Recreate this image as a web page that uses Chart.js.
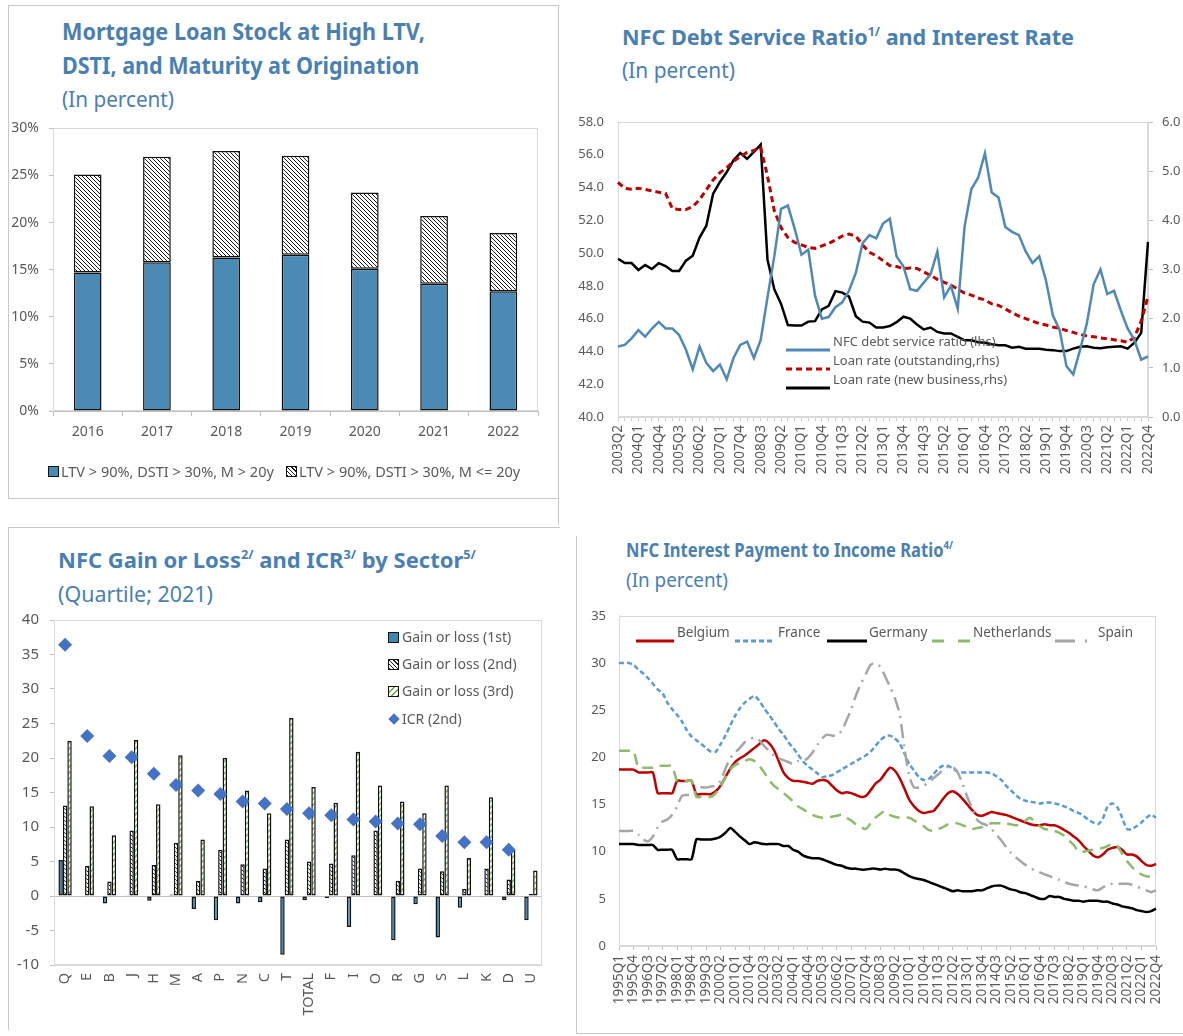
<!DOCTYPE html>
<html>
<head>
<meta charset="utf-8">
<title>Mortgage loans and NFC debt service</title>
<script src="https://cdn.jsdelivr.net/npm/chart.js@4.4.1/dist/chart.umd.min.js"></script>
<style>
  html, body { margin: 0; padding: 0; background: #fff; }
  body { position: relative; width: 1183px; height: 1036px; overflow: hidden; font-family: "Noto Sans", "DejaVu Sans", sans-serif; }
  canvas { position: absolute; }
  .ttl { position: absolute; white-space: nowrap; color: #4a7fb2; transform-origin: 0 50%; line-height: 1.2; }
  .ttl.b { font-weight: 700; }
  .ttl sup { font-size: 0.58em; vertical-align: 0.7em; line-height: 0; }
  .rule { position: absolute; background: #c8c8c8; }
  .lg { position: absolute; white-space: nowrap; color: #595959; line-height: 20px; height: 20px; }
  .mk { position: absolute; }
</style>
</head>
<body>

<div class="rule" style="left:8px;top:5px;width:550px;height:1px"></div>
<div class="rule" style="left:8px;top:5px;width:1px;height:493px"></div>
<div class="rule" style="left:8px;top:498px;width:550px;height:1px"></div>
<div class="rule" style="left:558px;top:5px;width:1px;height:520px"></div>
<div class="rule" style="left:8px;top:527px;width:552px;height:1px"></div>
<div class="rule" style="left:8px;top:527px;width:1px;height:503px"></div>
<div class="rule" style="left:576px;top:536px;width:1px;height:497px"></div>
<div class="rule" style="left:576px;top:1033px;width:607px;height:1px"></div>

<div class="ttl b" data-w="363" style="left:62px;top:17px;font-size:24px">Mortgage Loan Stock at High LTV,</div>
<div class="ttl b" data-w="357" style="left:62px;top:51px;font-size:24px">DSTI, and Maturity at Origination</div>
<div class="ttl" data-w="112" style="left:62px;top:85px;font-size:22px">(In percent)</div>

<div class="ttl b" data-w="452" style="left:622px;top:23px;font-size:22px">NFC Debt Service Ratio<sup>1/</sup> and Interest Rate</div>
<div class="ttl" data-w="113" style="left:622px;top:58px;font-size:21px">(In percent)</div>

<div class="ttl b" data-w="418" style="left:58px;top:546px;font-size:22px">NFC Gain or Loss<sup>2/</sup> and ICR<sup>3/</sup> by Sector<sup>5/</sup></div>
<div class="ttl" data-w="155" style="left:58px;top:580px;font-size:22px">(Quartile; 2021)</div>

<div class="ttl b" data-w="327" style="left:626px;top:539px;font-size:19px">NFC Interest Payment to Income Ratio<sup>4/</sup></div>
<div class="ttl" data-w="102" style="left:626px;top:569px;font-size:19px">(In percent)</div>

<canvas id="c1" width="558" height="380" style="left:0;top:110px"></canvas>
<canvas id="c2" width="623" height="400" style="left:560px;top:100px"></canvas>
<canvas id="c3" width="552" height="430" style="left:8px;top:600px"></canvas>
<canvas id="c4" width="607" height="441" style="left:576px;top:595px"></canvas>

<script>
// ---- chart 1: mortgage loan stock ----
const years = ['2016', '2017', '2018', '2019', '2020', '2021', '2022'];
const longMaturity = [14.7, 15.8, 16.3, 16.6, 15.1, 13.5, 12.7];
const shortMaturity = [10.4, 11.2, 11.3, 10.5, 8.1, 7.2, 6.2];
const pctTicks = [0, 5, 10, 15, 20, 25, 30];

// ---- chart 2: NFC debt service ratio, 2003Q2-2022Q4 ----
const debtService = [
  44.3, 44.4, 44.8, 45.3, 44.9, 45.4, 45.8, 45.4, 45.4, 45.0,
  44.1, 42.9, 44.3, 43.3, 42.8, 43.2, 42.3, 43.6, 44.4, 44.6,
  43.6, 44.7, 47.3, 49.8, 52.7, 52.9, 51.5, 49.9, 50.2, 47.4,
  46.0, 46.1, 46.7, 47.0, 47.7, 48.8, 50.6, 51.1, 50.9, 51.8,
  52.1, 49.8, 49.2, 47.8, 47.7, 48.2, 48.7, 50.1, 47.3, 48.0,
  46.6, 51.6, 53.9, 54.6, 56.1, 53.7, 53.4, 51.6, 51.3, 51.1,
  50.1, 49.4, 49.8, 48.3, 46.2, 45.3, 43.1, 42.6, 44.1, 45.7,
  48.1, 49.0, 47.5, 47.7, 46.5, 45.4, 44.7, 43.5, 43.7
];
const rateOutstanding = [
  4.77, 4.65, 4.63, 4.65, 4.63, 4.60, 4.57, 4.55, 4.24, 4.22,
  4.22, 4.28, 4.42, 4.62, 4.82, 4.97, 5.07, 5.20, 5.30, 5.38,
  5.42, 5.48, 4.90, 4.20, 3.85, 3.65, 3.55, 3.50, 3.45, 3.43,
  3.48, 3.53, 3.60, 3.68, 3.72, 3.68, 3.50, 3.35, 3.28, 3.18,
  3.08, 3.06, 3.02, 3.03, 3.02, 2.95, 2.88, 2.80, 2.74, 2.68,
  2.60, 2.52, 2.48, 2.42, 2.38, 2.30, 2.27, 2.20, 2.12, 2.05,
  2.00, 1.95, 1.90, 1.87, 1.83, 1.80, 1.76, 1.72, 1.68, 1.65,
  1.63, 1.61, 1.59, 1.57, 1.55, 1.52, 1.62, 1.95, 2.45
];
const rateNewBusiness = [
  3.22, 3.13, 3.13, 2.99, 3.09, 3.01, 3.13, 3.07, 2.97, 2.97,
  3.18, 3.28, 3.65, 3.89, 4.54, 4.78, 4.98, 5.22, 5.37, 5.25,
  5.39, 5.54, 3.20, 2.60, 2.30, 1.87, 1.86, 1.86, 1.94, 1.95,
  2.19, 2.26, 2.56, 2.53, 2.45, 2.05, 1.94, 1.92, 1.82, 1.82,
  1.85, 1.93, 2.04, 2.00, 1.88, 1.78, 1.82, 1.73, 1.70, 1.70,
  1.63, 1.56, 1.56, 1.52, 1.51, 1.48, 1.46, 1.46, 1.41, 1.43,
  1.39, 1.39, 1.39, 1.37, 1.36, 1.34, 1.34, 1.39, 1.43, 1.44,
  1.41, 1.40, 1.42, 1.43, 1.44, 1.39, 1.51, 1.71, 3.56
];

// ---- chart 3: gain or loss and ICR by sector ----
const sectors = ['Q', 'E', 'B', 'J', 'H', 'M', 'A', 'P', 'N', 'C', 'T', 'TOTAL', 'F', 'I', 'O', 'R', 'G', 'S', 'L', 'K', 'D', 'U'];
const gainQ1 = [5.2, -0.1, -1.1, 0.1, -0.7, 0.2, -1.9, -3.5, -1.1, -0.9, -8.5, -0.6, -0.3, -4.5, 0.1, -6.4, -1.2, -6.0, -1.7, -0.1, -0.6, -3.5];
const gainQ2 = [13.1, 4.4, 2.1, 9.5, 4.5, 7.7, 2.2, 6.7, 4.6, 4.0, 8.2, 5.0, 4.7, 5.9, 9.5, 2.2, 4.0, 3.6, 1.0, 4.0, 2.4, 0.3];
const gainQ3 = [22.5, 13.0, 8.8, 22.6, 13.3, 20.4, 8.2, 20.0, 15.3, 12.0, 25.8, 15.8, 13.5, 20.9, 16.0, 13.7, 12.0, 16.0, 5.5, 14.3, 6.7, 3.7];
const icrQ2 = [36.4, 23.2, 20.3, 20.1, 17.7, 16.1, 15.3, 14.8, 13.7, 13.4, 12.6, 12.0, 11.7, 11.1, 10.8, 10.5, 10.4, 8.7, 7.8, 7.8, 6.7, null];

// ---- chart 4: interest payment to income, 1995Q1-2022Q4 ----
const belgium = [
  18.7, 18.7, 18.7, 18.7, 18.4, 18.4, 18.4, 18.4, 16.2, 16.2,
  16.2, 16.2, 17.5, 17.5, 17.5, 17.5, 16.1, 16.1, 16.1, 16.1,
  16.4, 17.0, 17.9, 18.8, 19.5, 19.9, 20.2, 20.6, 21.0, 21.4,
  21.8, 21.5, 20.8, 19.6, 18.4, 17.8, 17.5, 17.5, 17.4, 17.3,
  17.2, 17.5, 17.6, 17.5, 17.0, 16.5, 16.2, 16.3, 16.2, 16.0,
  15.8, 15.9, 16.5, 17.2, 17.6, 18.3, 18.9, 18.6, 17.8, 16.7,
  15.5, 14.8, 14.3, 14.1, 14.2, 14.3, 14.9, 15.6, 16.2, 16.4,
  16.1, 15.6, 15.0, 14.4, 13.9, 13.8, 14.0, 14.2, 14.1, 14.0,
  13.9, 13.7, 13.5, 13.3, 13.1, 12.9, 12.8, 12.8, 12.9, 12.8,
  12.8, 12.6, 12.3, 12.0, 11.6, 11.2, 10.6, 10.1, 9.6, 9.4,
  9.7, 10.2, 10.4, 10.5, 10.2, 9.7, 9.7, 9.5, 9.0, 8.6,
  8.5, 8.7
];
const france = [
  30.0, 30.0, 30.0, 29.8, 29.3, 28.9, 28.4, 27.8, 27.2, 26.8,
  25.8, 25.1, 24.5, 23.8, 22.9, 22.2, 21.8, 21.4, 21.0, 20.6,
  20.6, 21.4, 22.3, 23.4, 24.4, 25.2, 25.8, 26.2, 26.5, 26.0,
  25.2, 24.5, 23.8, 23.0, 22.4, 21.6, 21.0, 20.3, 19.6, 19.1,
  18.7, 18.3, 17.9, 18.0, 18.1, 18.4, 18.7, 19.0, 19.3, 19.6,
  19.9, 20.2, 20.6, 21.2, 21.8, 22.2, 22.3, 22.0, 21.5, 20.4,
  19.3, 18.6, 17.9, 17.6, 17.7, 18.2, 18.8, 19.1, 19.1, 18.8,
  18.5, 18.4, 18.4, 18.4, 18.4, 18.4, 18.4, 18.3, 18.0, 17.6,
  17.0, 16.5, 16.0, 15.6, 15.4, 15.3, 15.2, 15.1, 15.2, 15.2,
  15.1, 15.0, 14.8, 14.6, 14.3, 14.1, 13.8, 13.4, 13.1, 12.9,
  13.5, 14.8, 15.1, 14.7, 13.6, 12.4, 12.4, 12.7, 13.1, 13.6,
  13.9, 13.6
];
const germany = [
  10.8, 10.8, 10.8, 10.8, 10.7, 10.7, 10.7, 10.7, 10.2, 10.2,
  10.2, 10.2, 9.2, 9.2, 9.2, 9.2, 11.3, 11.3, 11.3, 11.3,
  11.4, 11.6, 12.0, 12.5, 12.1, 11.6, 11.2, 10.8, 11.0, 10.9,
  10.8, 10.8, 10.8, 10.8, 10.6, 10.6, 10.2, 10.0, 9.6, 9.4,
  9.3, 9.3, 9.2, 9.0, 8.8, 8.6, 8.5, 8.3, 8.2, 8.2,
  8.1, 8.1, 8.2, 8.2, 8.1, 8.2, 8.1, 8.1, 8.0, 7.7,
  7.4, 7.2, 7.1, 7.0, 6.8, 6.6, 6.4, 6.2, 6.0, 5.8,
  5.9, 5.8, 5.8, 5.8, 5.9, 5.9, 6.1, 6.3, 6.4, 6.4,
  6.2, 6.0, 5.9, 5.7, 5.6, 5.4, 5.2, 5.0, 5.0, 5.3,
  5.2, 5.2, 5.0, 4.9, 4.8, 4.8, 4.7, 4.8, 4.8, 4.8,
  4.7, 4.7, 4.5, 4.4, 4.2, 4.1, 4.0, 3.8, 3.7, 3.6,
  3.7, 3.95
];
const netherlands = [
  20.7, 20.7, 20.7, 20.7, 18.9, 18.9, 18.9, 18.9, 19.1, 19.1,
  19.1, 19.1, 17.5, 17.5, 17.5, 17.5, 15.8, 15.8, 15.8, 15.8,
  16.2, 17.0, 17.9, 18.7, 19.2, 19.4, 19.6, 19.8, 19.6, 19.1,
  18.4, 17.6, 17.0, 16.6, 16.2, 15.8, 15.3, 14.8, 14.5, 14.2,
  13.9, 13.7, 13.6, 13.6, 13.7, 13.8, 13.9, 13.6, 13.3, 12.9,
  12.6, 12.4, 13.0, 13.6, 14.0, 14.3, 13.9, 13.7, 13.6, 13.6,
  13.6, 13.3, 13.0, 12.7, 12.3, 12.2, 12.4, 12.6, 12.9, 13.0,
  13.0, 12.8, 12.6, 12.4, 12.5, 12.6, 12.9, 13.0, 13.0, 13.0,
  13.0, 12.9, 12.8, 12.9, 13.3, 13.6, 13.1, 12.7, 12.4, 12.3,
  12.2, 12.0, 11.7, 11.2, 10.7, 10.0, 10.0, 10.1, 10.2, 10.3,
  10.4, 10.6, 10.8, 10.6, 9.8, 9.0, 8.4, 7.9, 7.6, 7.4,
  7.4, 7.8
];
const spain = [
  12.2, 12.2, 12.2, 12.2, 11.8, 11.3, 11.1, 11.6, 12.6, 13.2,
  13.4, 13.9, 14.8, 15.9, 16.0, 16.0, 16.4, 16.8, 16.8, 16.9,
  17.0, 17.5, 18.8, 19.9, 20.5, 21.0, 21.6, 21.9, 22.1, 21.8,
  21.2, 20.7, 20.2, 19.9, 19.7, 19.5, 19.3, 19.6, 19.6, 19.9,
  20.5, 21.3, 22.0, 22.4, 22.3, 22.3, 22.8, 23.9, 25.1, 26.6,
  27.8, 28.8, 29.8, 30.0, 29.6, 28.6, 27.5, 26.3, 24.6, 21.0,
  18.0, 16.8, 16.8, 17.0, 17.3, 17.8, 18.2, 18.7, 19.0, 19.0,
  18.4, 17.2, 15.8, 14.6, 13.4, 13.0, 12.8, 12.4, 11.8, 11.2,
  10.5, 9.9, 9.4, 9.0, 8.6, 8.3, 8.0, 7.8, 7.6, 7.4,
  7.2, 7.0, 6.8, 6.6, 6.5, 6.4, 6.3, 6.2, 6.0, 5.9,
  6.2, 6.5, 6.6, 6.6, 6.6, 6.6, 6.5, 6.3, 6.1, 5.9,
  5.7, 5.9
];

function quarters(fromYear, fromQ, toYear, toQ) {
  const out = [];
  for (let y = fromYear; y <= toYear; y++) {
    for (let q = 1; q <= 4; q++) {
      if (y === fromYear && q < fromQ) continue;
      if (y === toYear && q > toQ) break;
      out.push(y + 'Q' + q);
    }
  }
  return out;
}
const dsrQuarters = quarters(2003, 2, 2022, 4);
const ipiQuarters = quarters(1995, 1, 2022, 4);

const FONT = '"Noto Sans", "DejaVu Sans", sans-serif';
const TXT = '#595959';
const FRAME = '#d9d9d9';
Chart.defaults.font.family = FONT;
Chart.defaults.color = TXT;
Chart.defaults.animation = false;
Chart.defaults.plugins.tooltip.enabled = false;

// light grey box round the plot area, like the spreadsheet charts
Chart.register({
  id: 'frame',
  beforeDatasetsDraw(chart, args, opts) {
    const a = chart.chartArea, c = chart.ctx;
    c.save();
    c.strokeStyle = opts.color || FRAME;
    c.lineWidth = 1;
    c.strokeRect(Math.round(a.left) + 0.5, Math.round(a.top) + 0.5,
      Math.round(a.right - a.left) - 1, Math.round(a.bottom - a.top) - 1);
    c.restore();
  }
});

function hatch(ink, paper, size, rising, width) {
  const cv = document.createElement('canvas');
  cv.width = cv.height = size;
  const g = cv.getContext('2d');
  g.fillStyle = paper;
  g.fillRect(0, 0, size, size);
  g.strokeStyle = ink;
  g.lineWidth = width;
  g.beginPath();
  for (let k = -1; k <= 1; k++) {
    if (rising) { g.moveTo(k * size, size); g.lineTo(k * size + size, 0); }
    else { g.moveTo(k * size, 0); g.lineTo(k * size + size, size); }
  }
  g.stroke();
  return g.createPattern(cv, 'repeat');
}

const fixW = w => function (s) { s.width = w; };
const fixH = h => function (s) { s.height = h; };
const everyThird = labels => (v, i) => (i % 3 === 0 ? labels[i] : '');

// ---------- chart 1 ----------
const blue1 = '#4a8ab4';
new Chart(document.getElementById('c1'), {
  type: 'bar',
  data: {
    labels: years,
    datasets: [
      { label: 'LTV > 90%, DSTI > 30%, M > 20y', data: longMaturity, backgroundColor: blue1 },
      { label: 'LTV > 90%, DSTI > 30%, M <= 20y', data: shortMaturity, backgroundColor: hatch('#1a1a1a', '#fff', 4, false, 1) }
    ].map(d => Object.assign(d, { borderColor: '#111', borderWidth: 1.5, borderSkipped: false, categoryPercentage: 0.4, barPercentage: 1 }))
  },
  options: {
    responsive: false,
    layout: { padding: { left: 0, right: 20, top: 16, bottom: 39 } },
    plugins: { legend: { display: false } },
    scales: {
      x: {
        stacked: true,
        grid: { drawOnChartArea: false, offset: true, tickLength: 5, color: '#bfbfbf' },
        border: { color: '#bfbfbf' },
        ticks: { font: { size: 14 }, padding: 8 },
        afterFit: fixH(40)
      },
      y: {
        stacked: true, min: 0, max: 30,
        afterBuildTicks: s => { s.ticks = pctTicks.map(v => ({ value: v })); },
        ticks: { callback: v => v + '%', font: { size: 14 }, padding: 10 },
        grid: { drawOnChartArea: false, tickLength: 4, color: '#bfbfbf' },
        border: { color: FRAME },
        afterFit: fixW(53)
      }
    }
  }
});

// ---------- chart 2 ----------
new Chart(document.getElementById('c2'), {
  type: 'line',
  data: {
    labels: dsrQuarters,
    datasets: [
      { label: 'NFC debt service ratio (lhs)', data: debtService, yAxisID: 'y', borderColor: '#4f89b8', borderWidth: 2.5 },
      { label: 'Loan rate (outstanding,rhs)', data: rateOutstanding, yAxisID: 'y1', borderColor: '#c00000', borderWidth: 3, borderDash: [6, 4] },
      { label: 'Loan rate (new business,rhs)', data: rateNewBusiness, yAxisID: 'y1', borderColor: '#000', borderWidth: 2.5 }
    ].map(d => Object.assign(d, { pointRadius: 0, tension: 0, fill: false }))
  },
  options: {
    responsive: false,
    layout: { padding: { left: 0, right: 0, top: 22, bottom: 0 } },
    plugins: { legend: { display: false } },
    scales: {
      x: {
        grid: { drawOnChartArea: false, tickLength: 4, color: '#cfcfcf' },
        border: { color: FRAME },
        ticks: { autoSkip: false, minRotation: 90, maxRotation: 90, padding: 4, font: { size: 13.5 }, callback: everyThird(dsrQuarters) },
        afterFit: fixH(83)
      },
      y: {
        position: 'left', min: 40, max: 58,
        ticks: { stepSize: 2, callback: v => v.toFixed(1), font: { size: 13 }, padding: 14 },
        grid: { display: false, drawTicks: false },
        border: { color: FRAME },
        afterFit: fixW(58)
      },
      y1: {
        position: 'right', min: 0, max: 6,
        ticks: { stepSize: 1, callback: v => v.toFixed(1), font: { size: 13 }, padding: 9 },
        grid: { drawOnChartArea: false, tickLength: 5, color: '#bfbfbf' },
        border: { color: FRAME },
        afterFit: fixW(35)
      }
    }
  }
});

// ---------- chart 3 ----------
const blue3 = '#3f87b3';
new Chart(document.getElementById('c3'), {
  type: 'bar',
  data: {
    labels: sectors,
    datasets: [
      { type: 'line', label: 'ICR (2nd)', data: icrQ2, showLine: false, pointStyle: 'rectRot', pointRadius: 7,
        backgroundColor: '#4472c4', borderColor: '#4472c4', borderWidth: 0, order: 0 },
      { label: 'Gain or loss (1st)', data: gainQ1, backgroundColor: blue3, order: 1 },
      { label: 'Gain or loss (2nd)', data: gainQ2, backgroundColor: hatch('#1a1a1a', '#fff', 4, false, 1), order: 1 },
      { label: 'Gain or loss (3rd)', data: gainQ3, backgroundColor: hatch('#70ad47', '#fff', 6, true, 1.6), order: 1 }
    ].map(d => d.type ? d : Object.assign(d, { borderColor: '#111', borderWidth: 1.5, borderSkipped: false, categoryPercentage: 0.6, barPercentage: 1 }))
  },
  options: {
    responsive: false,
    layout: { padding: { left: 0, right: 18, top: 18, bottom: 0 } },
    plugins: { legend: { display: false } },
    scales: {
      x: {
        grid: { display: false, drawTicks: false },
        border: { color: FRAME },
        ticks: { autoSkip: false, minRotation: 90, maxRotation: 90, padding: 8, font: { size: 14.5 } },
        afterFit: fixH(65)
      },
      y: {
        min: -10, max: 40,
        ticks: { stepSize: 5, font: { size: 15 }, padding: 11 },
        grid: { color: c => (c.tick && c.tick.value === 0 ? '#bfbfbf' : 'rgba(0,0,0,0)'), tickColor: '#bfbfbf', tickLength: 4 },
        border: { color: FRAME },
        afterFit: fixW(46)
      }
    }
  }
});

// ---------- chart 4 ----------
const countryStyle = {
  Belgium: { color: '#c00000', dash: [] },
  France: { color: '#5b9bd5', dash: [5, 3] },
  Germany: { color: '#000000', dash: [] },
  Netherlands: { color: '#8cbb6a', dash: [11, 7] },
  Spain: { color: '#a6a6a6', dash: [14, 6, 2, 6] }
};
const countrySeries = { Belgium: belgium, France: france, Germany: germany, Netherlands: netherlands, Spain: spain };
new Chart(document.getElementById('c4'), {
  type: 'line',
  data: {
    labels: ipiQuarters,
    datasets: Object.keys(countrySeries).reverse().map(name => ({
      label: name, data: countrySeries[name], borderColor: countryStyle[name].color,
      borderDash: countryStyle[name].dash, borderWidth: 2.5, pointRadius: 0, tension: 0.25, fill: false
    }))
  },
  options: {
    responsive: false,
    layout: { padding: { left: 0, right: 27, top: 17, bottom: 0 } },
    plugins: { legend: { display: false } },
    scales: {
      x: {
        grid: { drawOnChartArea: false, tickLength: 4, color: c => (c.index % 3 === 0 ? '#bfbfbf' : 'rgba(0,0,0,0)') },
        border: { color: FRAME },
        ticks: { autoSkip: false, minRotation: 90, maxRotation: 90, padding: 5, font: { size: 13.5 }, callback: everyThird(ipiQuarters) },
        afterFit: fixH(90)
      },
      y: {
        min: 0, max: 35,
        ticks: { stepSize: 5, font: { size: 13 }, padding: 13 },
        grid: { display: false, drawTicks: false },
        border: { color: FRAME },
        afterFit: fixW(43)
      }
    }
  }
});

// ---------- legends placed as in the picture ----------
function lineMark(w, color, width, dash) {
  return `<svg width="${w}" height="8"><line x1="0" y1="4" x2="${w}" y2="4" stroke="${color}" stroke-width="${width}" stroke-dasharray="${dash.join(',')}"/></svg>`;
}
function addLegend(items, size) {
  for (const it of items) {
    const m = document.createElement('div');
    m.className = 'mk';
    m.style.left = it.x + 'px';
    m.style.top = (it.y - it.h / 2) + 'px';
    m.innerHTML = it.mark;
    document.body.appendChild(m);
    const t = document.createElement('div');
    t.className = 'lg';
    t.style.left = it.tx + 'px';
    t.style.top = (it.y - 10) + 'px';
    t.style.fontSize = size + 'px';
    t.textContent = it.label;
    document.body.appendChild(t);
  }
}

const boxCss = 'width:9px;height:9px;border:1px solid #111;';
const hatchCss = 'background:repeating-linear-gradient(45deg,#1a1a1a 0 1px,#fff 1px 3px)';

addLegend([
  { x: 48, y: 471, h: 11, tx: 61, label: 'LTV > 90%, DSTI > 30%, M > 20y', mark: `<div style="${boxCss}background:${blue1}"></div>` },
  { x: 286, y: 471, h: 11, tx: 299, label: 'LTV > 90%, DSTI > 30%, M <= 20y', mark: `<div style="${boxCss}${hatchCss}"></div>` }
], 14.5);

addLegend([
  { x: 786, y: 341, h: 8, tx: 833, label: 'NFC debt service ratio (lhs)', mark: lineMark(44, '#4f89b8', 3, []) },
  { x: 786, y: 360, h: 8, tx: 833, label: 'Loan rate (outstanding,rhs)', mark: lineMark(44, '#c00000', 3, [6, 4]) },
  { x: 786, y: 379, h: 8, tx: 833, label: 'Loan rate (new business,rhs)', mark: lineMark(44, '#000', 3, []) }
], 13);

addLegend([
  { x: 388, y: 637, h: 11, tx: 402, label: 'Gain or loss (1st)', mark: `<div style="${boxCss}background:${blue3}"></div>` },
  { x: 388, y: 664, h: 11, tx: 402, label: 'Gain or loss (2nd)', mark: `<div style="${boxCss}${hatchCss}"></div>` },
  { x: 388, y: 691, h: 11, tx: 402, label: 'Gain or loss (3rd)', mark: `<div style="${boxCss}background:repeating-linear-gradient(135deg,#fff 0 3px,#70ad47 3px 4.5px)"></div>` },
  { x: 388, y: 719, h: 11, tx: 402, label: 'ICR (2nd)', mark: '<div style="width:8px;height:8px;margin:1.5px;background:#4472c4;transform:rotate(45deg)"></div>' }
], 14);

addLegend(Object.keys(countryStyle).map((name, i) => ({
  x: [636, 735, 827, 932, 1055][i], y: 632, h: 8, tx: [677, 778, 869, 973, 1098][i], label: name,
  mark: lineMark([38, 40, 40, 38, 34][i], countryStyle[name].color, 3, name === 'Netherlands' ? [12, 14] : name === 'Spain' ? [20, 10, 2, 10] : countryStyle[name].dash)
})), 13.5);

// squeeze each title to the width it has in the picture
document.querySelectorAll('.ttl').forEach(el => {
  const w = el.getBoundingClientRect().width;
  el.style.transform = `scaleX(${(+el.dataset.w / w).toFixed(3)})`;
});
</script>
</body>
</html>
